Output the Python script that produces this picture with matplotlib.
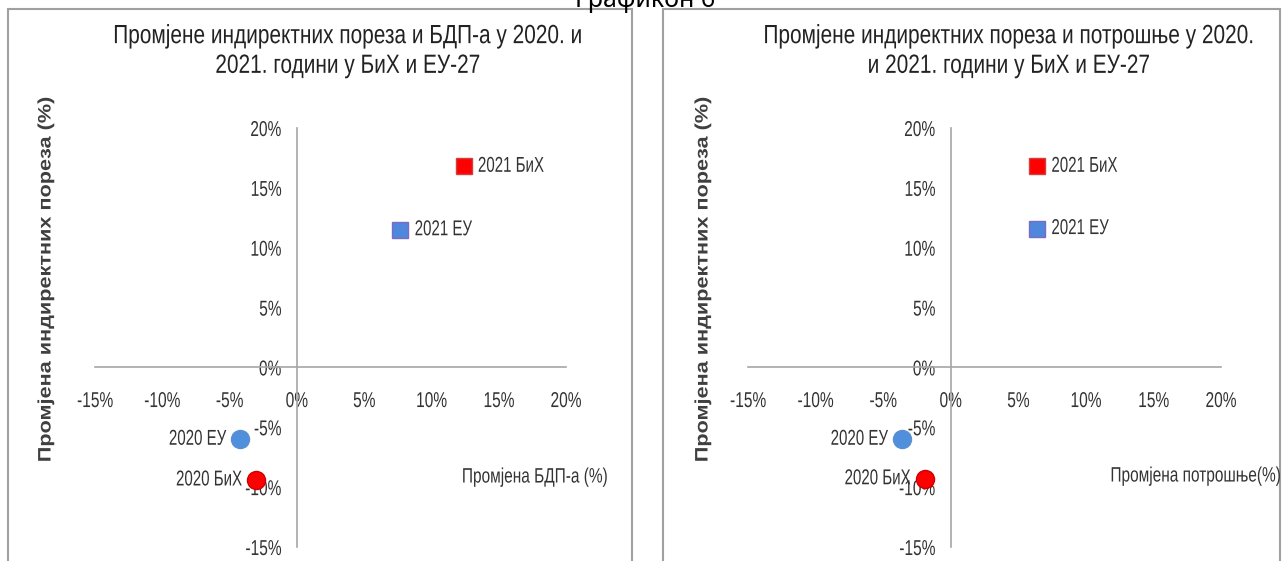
import matplotlib.pyplot as plt
from matplotlib.patches import Rectangle
from matplotlib.ticker import PercentFormatter
from matplotlib.patheffects import AbstractPathEffect
from matplotlib.transforms import Affine2D

plt.rcParams["axes.unicode_minus"] = False

W, H = 1287, 561

# data (percent)
labels = ["2021 БиХ", "2021 ЕУ", "2020 ЕУ", "2020 БиХ"]
gdp_x = [12.4, 7.7, -4.2, -3.0]
gdp_y = [16.8, 11.5, -6.0, -9.4]
cons_x = [6.4, 6.4, -3.6, -1.9]
cons_y = [16.8, 11.6, -6.0, -9.3]

titles = [
    "Промјене индиректних пореза и БДП-а у 2020. и\n2021. години у БиХ и ЕУ-27",
    "Промјене индиректних пореза и потрошње у 2020.\nи 2021. години у БиХ и ЕУ-27",
]
xtitles = ["Промјена БДП-а (%)", "Промјена потрошње(%)"]
ytitle = "Промјена индиректних пореза (%)"
ticks = [-15, -10, -5, 0, 5, 10, 15, 20]

markers = ["s", "s", "o", "o"]
faces = ["#ff0000", "#4f87dc", "#4f8fdc", "#ff0000"]
edges = ["#d04040", "#7a6cc0", "#5a8fd0", "#d00000"]
sizes = [12, 12, 13, 13]
label_side = ["right", "right", "left", "left"]

FONT = ["Liberation Sans", "DejaVu Sans"]
TXT = "#333333"


class Squeeze(AbstractPathEffect):
    """scale the glyph path around an anchor of its own bbox (fake narrow font)"""

    def __init__(self, sx=1.0, sy=1.0, anchor="center"):
        super().__init__()
        self.sx, self.sy, self.anchor = sx, sy, anchor

    def draw_path(self, renderer, gc, tpath, affine, rgbFace=None):
        ext = tpath.get_extents(affine)
        if self.anchor == "left":
            x0 = ext.x0
        elif self.anchor == "right":
            x0 = ext.x1
        else:
            x0 = (ext.x0 + ext.x1) / 2
        y0 = (ext.y0 + ext.y1) / 2
        tr = Affine2D().translate(-x0, -y0).scale(self.sx, self.sy).translate(x0, y0)
        renderer.draw_path(gc, tpath, affine + tr, rgbFace)


fig = plt.figure(figsize=(W / 100, H / 100), dpi=100)


def px(x, y):
    return x / W, 1 - y / H


# header, cut off at the top
fig.text(*px(645, 7), "Графикон 6", ha="center", va="baseline",
         fontsize=18, family=["Noto Sans", "DejaVu Sans"], color="black")

# panel frames
for x0, x1 in [(8, 632), (663, 1280)]:
    fig.patches.append(Rectangle(px(x0, 580), (x1 - x0) / W, 571 / H,
                                 transform=fig.transFigure, fill=False,
                                 edgecolor="#a0a0a0", linewidth=1.5))

panels = [
    dict(ax=(95, 566), xs=gdp_x, ys=gdp_y, tcx=348, ylx=46, xt=(535, 477)),
    dict(ax=(748, 1221), xs=cons_x, ys=cons_y, tcx=1009, ylx=703, xt=(1196, 476)),
]

for i, p in enumerate(panels):
    l, r = p["ax"]
    top, bot = 128, 547
    ax = fig.add_axes([l / W, 1 - bot / H, (r - l) / W, (bot - top) / H])
    ax.set_xlim(-15, 20)
    ax.set_ylim(-15, 20)
    for s in ["top", "right"]:
        ax.spines[s].set_visible(False)
    for s in ["left", "bottom"]:
        ax.spines[s].set_position(("data", 0))
        ax.spines[s].set_color("#a6a6a6")
        ax.spines[s].set_linewidth(1.2)
    ax.set_xticks(ticks)
    ax.set_yticks(ticks)
    ax.xaxis.set_major_formatter(PercentFormatter(decimals=0))
    ax.yaxis.set_major_formatter(PercentFormatter(decimals=0))
    ax.tick_params(axis="x", length=0, pad=17, labelsize=15.5, labelcolor=TXT)
    ax.tick_params(axis="y", length=0, pad=11, labelsize=15.5, labelcolor=TXT)
    for t in ax.get_xticklabels():
        t.set_family(FONT)
        t.set_path_effects([Squeeze(0.72, anchor="center")])
    for t in ax.get_yticklabels():
        t.set_family(FONT)
        t.set_path_effects([Squeeze(0.72, anchor="right")])
    ax.patch.set_alpha(0)

    for j in range(len(labels)):
        ax.plot(p["xs"][j], p["ys"][j], marker=markers[j], markersize=sizes[j],
                markerfacecolor=faces[j], markeredgecolor=edges[j],
                markeredgewidth=1, linestyle="None", zorder=3)
        if label_side[j] == "right":
            ax.annotate(labels[j], (p["xs"][j], p["ys"][j]), xytext=(10, 0),
                        textcoords="offset points", ha="left", va="center",
                        fontsize=15.5, family=FONT, color=TXT,
                        path_effects=[Squeeze(0.70, anchor="left")])
        else:
            ax.annotate(labels[j], (p["xs"][j], p["ys"][j]), xytext=(-10, 0),
                        textcoords="offset points", ha="right", va="center",
                        fontsize=15.5, family=FONT, color=TXT,
                        path_effects=[Squeeze(0.70, anchor="right")])

    fig.text(*px(p["tcx"], 51), titles[i], ha="center", va="center",
             fontsize=19, family=FONT, color="#222222", linespacing=1.3,
             path_effects=[Squeeze(0.79)])
    fig.text(*px(p["xt"][0], p["xt"][1]), xtitles[i], ha="center", va="center",
             fontsize=15, family=FONT, color=TXT,
             path_effects=[Squeeze(0.74)])
    fig.text(*px(p["ylx"], 280), ytitle, ha="center", va="center",
             rotation=90, fontsize=13, fontweight="bold", family=FONT,
             color="#404040", path_effects=[Squeeze(1.0, 1.2)])

fig.savefig("out.png", dpi=100)
